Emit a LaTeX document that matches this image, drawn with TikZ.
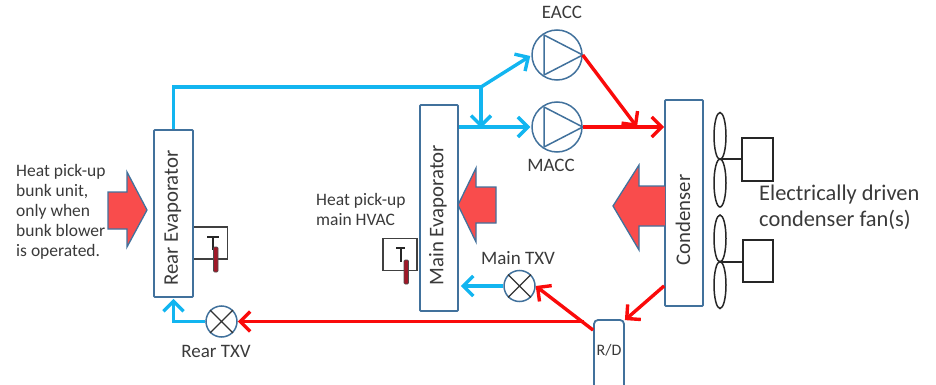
\documentclass[tikz,border=0pt]{standalone}
\usepackage{fontspec}
\setmainfont{Carlito}
\usetikzlibrary{arrows.meta,calc}
\definecolor{edgeblue}{HTML}{41719C}
\definecolor{coolblue}{HTML}{12B5F0}
\definecolor{hotred}{HTML}{FA0A0A}
\definecolor{heatfill}{HTML}{F94C4C}
\definecolor{inktext}{HTML}{3A3A3A}
\definecolor{bulb}{HTML}{A01828}
\tikzset{
 x=1pt,y=-1pt,
 unit/.style={draw=edgeblue,line width=1.8pt,fill=white,inner sep=0pt,rounded corners=0.8pt},
 pump/.style={draw=edgeblue,line width=1.5pt,circle,minimum size=50pt,inner sep=0pt},
 valve/.style={draw=edgeblue,line width=1.5pt,circle,minimum size=31pt,inner sep=0pt},
 cool/.style={draw=coolblue,line width=3.4pt,-{Straight Barb[length=10pt,width=20pt,line width=3.4pt]}},
 coolplain/.style={draw=coolblue,line width=3.4pt},
 hot/.style={draw=hotred,line width=3.4pt,-{Straight Barb[length=10pt,width=20pt,line width=3.4pt]}},
 heat/.style={draw=edgeblue,line width=1.3pt,fill=heatfill,line join=miter},
 txt/.style={text=inktext,inner sep=0pt,font=\fontsize{17.5}{20}\selectfont,align=left},
 tag/.style={text=inktext,inner sep=0pt,font=\fontsize{19}{22}\selectfont},
 big/.style={text=inktext,inner sep=0pt,font=\fontsize{22.4}{26}\selectfont,align=left},
 vlabel/.style={text=inktext,inner sep=0pt,font=\fontsize{20.8}{22}\selectfont,rotate=90},
 fanpart/.style={draw=black!85,line width=1.5pt},
 sensor/.style={draw=black!75,line width=1.1pt,fill=white,minimum width=34pt,minimum height=32pt,inner sep=0pt},
 bulbbar/.style={draw=black!70,line width=.6pt,fill=bulb,rounded corners=1pt},
}
\begin{document}
\begin{tikzpicture}
\useasboundingbox (0,0) rectangle (936,385);
% sensors behind units
\node[sensor] (rs) at (210.5,243) {};
\node[sensor] (ms) at (400,254.5) {};
% units
\node[unit,minimum width=39pt,minimum height=167pt] (rear) at (173.5,213.5) {};
\node[unit,minimum width=38pt,minimum height=206pt] (main) at (439,208) {};
\node[unit,minimum width=38pt,minimum height=206pt] (cond) at (684,203) {};
\node[unit,minimum width=30pt,minimum height=70pt,rounded corners=4pt] (rd) at (609,355) {};
\node[vlabel] (rearl) at (173,218) {Rear Evaporator};
\node[vlabel] (mainl) at (438,215) {Main Evaporator};
\node[vlabel] (condl) at (683,220) {Condenser};
\node[text=inktext,inner sep=0pt,font=\fontsize{16}{18}\selectfont] (rdl) at (609,350) {R/D};
% pumps
\node[pump] (eacc) at (557,55) {};
\node[pump] (macc) at (557,127) {};
\draw[draw=edgeblue,line width=1.5pt,line join=round] ($(eacc.center)+(-13,-20)$) -- (eacc.east) -- ($(eacc.center)+(-13,20)$) -- cycle;
\draw[draw=edgeblue,line width=1.5pt,line join=round] ($(macc.center)+(-13,-20)$) -- (macc.east) -- ($(macc.center)+(-13,20)$) -- cycle;
% valves
\node[valve] (mtxv) at (519.5,286) {};
\node[valve] (rtxv) at (221.5,321.5) {};
\foreach \v in {mtxv,rtxv}{
 \draw[black!80,line width=1.2pt] (\v.45) -- (\v.225) (\v.135) -- (\v.315);
}
% blue lines
\coordinate (bend) at (rear.north |- 0,87);
\coordinate (split) at (481,87);
\coordinate (tee) at (split |- macc.west);
\coordinate (rearin) at (rear.south |- rtxv.west);
\draw[coolplain,line cap=butt] (rear.north) -- (bend) -- (split);
\draw[cool] (split) -- ($(eacc.west)+(-1,1)$);
\draw[cool] (split) -- ($(tee)+(0,1)$);
\draw[cool] (main.east |- macc.west) -- ($(macc.west)+(-1,0)$);
\draw[cool] (mtxv.west) -- ($(main.east |- mtxv.west)+(2,0)$);
\draw[cool] (rtxv.west) -- (rearin) -- ($(rear.south)+(0,1)$);
% red lines
\coordinate (junction) at (637,127);
\coordinate (rdleft) at ($(rd.north west)+(0,11)$);
\coordinate (branch) at ($(rd.north west |- rtxv.east)+(-9,0)$);
\coordinate (condout) at ($(cond.south west)+(0,-21)$);
\draw[hot] (eacc.east) -- (junction);
\draw[hot] (macc.east) -- (cond.west |- macc.east);
\draw[hot] (condout) -- ($(rd.north east)+(0,1)$);
\draw[hot] (rdleft) -- (mtxv.east);
\draw[hot] (branch) -- (rtxv.east);
% heat arrows
\draw[heat] (108,192) -- (127,192) -- (127,172) -- (147,210) -- (127,247) -- (127,229) -- (108,229) -- cycle;
\draw[heat] (496,187) -- (476,187) -- (476,168) -- (458,205) -- (476,242) -- (476,223) -- (496,223) -- cycle;
\draw[heat] (665,186) -- (639,186) -- (639,165) -- (613,206) -- (639,250) -- (639,226) -- (665,226);
% sensors detail
\draw[black!85,line width=1.3pt] (207,237) -- (219,237) (213,237) -- (213,250);
\draw[bulbbar] (213.5,247) rectangle (218,272);
\draw[black!85,line width=1.3pt] (396,248) -- (405,248) (401,248) -- (401,262);
\draw[bulbbar] (404,260) rectangle (408.5,284);
% fans
\node[fanpart,minimum width=31pt,minimum height=43pt,inner sep=0pt] (m1) at (757.5,159.5) {};
\node[fanpart,minimum width=30pt,minimum height=42pt,inner sep=0pt] (m2) at (758,261) {};
\coordinate (h1) at (720,159);
\coordinate (h2) at (720,262);
\draw[fanpart] (720,136) ellipse [x radius=6,y radius=23.5];
\draw[fanpart] (720,183) ellipse [x radius=6,y radius=24];
\draw[fanpart] (720,238.5) ellipse [x radius=6,y radius=23.5];
\draw[fanpart] (720,285) ellipse [x radius=6,y radius=23.5];
\draw[fanpart] (h1) -- (m1.west |- h1);
\draw[fanpart] (h2) -- (m2.west |- h2);
% labels
\node[txt,anchor=west] (t1) at (16,212) {Heat pick-up\\bunk unit,\\only when\\bunk blower\\is operated.};
\node[txt,anchor=west] (t2) at (316,209) {Heat pick-up\\main HVAC};
\node[tag] (t3) at (562,12) {EACC};
\node[tag] (t4) at (551,165) {MACC};
\node[tag] (t5) at (518,258) {Main TXV};
\node[tag] (t6) at (216,351) {Rear TXV};
\node[big,anchor=west] (t7) at (759,207) {Electrically driven\\condenser fan(s)};
\end{tikzpicture}
\end{document}
